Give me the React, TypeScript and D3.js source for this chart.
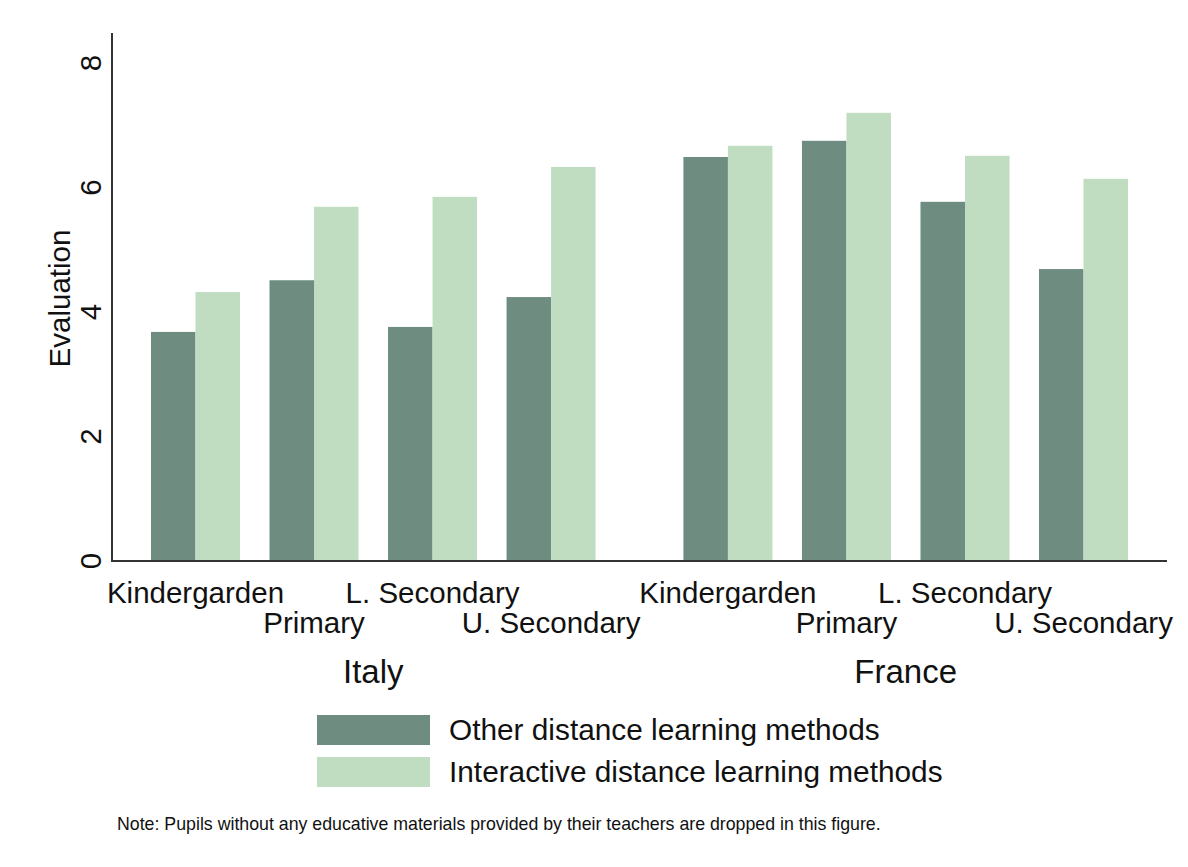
import React from "react";
import * as d3 from "d3";

const countries = ["Italy", "France"];
const levels = ["Kindergarden", "Primary", "L. Secondary", "U. Secondary"];
const seriesNames = ["Other distance learning methods", "Interactive distance learning methods"];
const otherItaly = [3.68, 4.51, 3.76, 4.24];
const interactiveItaly = [4.32, 5.69, 5.85, 6.33];
const otherFrance = [6.49, 6.75, 5.77, 4.69];
const interactiveFrance = [6.67, 7.2, 6.51, 6.14];
const yTicks = [0, 2, 4, 6, 8];
const note = "Note: Pupils without any educative materials provided by their teachers are dropped in this figure.";

const colors = ["#6e8c80", "#c0ddc1"];

const W = 1188;
const H = 867;
const left = 112;
const right = 1167;
const base = 561;

export default function App() {
  const values: Record<string, number[][]> = {
    Italy: [otherItaly, interactiveItaly],
    France: [otherFrance, interactiveFrance],
  };
  const y = d3.scaleLinear().domain([0, 8]).range([base, 63]);
  const x0 = d3.scaleBand().domain(countries).range([left, right]).paddingInner(0.165).paddingOuter(0.0732);
  const x1 = d3.scaleBand().domain(levels).range([0, x0.bandwidth()]).paddingInner(0.249).paddingOuter(0);
  const x2 = d3.scaleBand().domain(seriesNames).range([0, x1.bandwidth()]).padding(0);
  const font = "'Liberation Sans', Arial, sans-serif";
  const fs = 29.5;

  return (
    <svg width={W} height={H} style={{ display: "block", position: "absolute", left: 0, top: 0, background: "#fff" }} fontFamily={font}>
      <rect x={0} y={0} width={W} height={H} fill="#fff" />
      {countries.map((c) => (
        <g key={c} transform={`translate(${x0(c)},0)`}>
          {levels.map((lv, li) => (
            <g key={lv} transform={`translate(${x1(lv)},0)`}>
              {seriesNames.map((s, si) => (
                <rect
                  key={s}
                  x={x2(s)}
                  y={y(values[c][si][li])}
                  width={x2.bandwidth()}
                  height={base - y(values[c][si][li])}
                  fill={colors[si]}
                />
              ))}
              <text
                x={x1.bandwidth() / 2}
                y={li % 2 === 0 ? 603 : 633}
                textAnchor="middle"
                fontSize={fs}
                fill="#111"
              >
                {lv}
              </text>
            </g>
          ))}
          <text x={x0.bandwidth() / 2} y={683} textAnchor="middle" fontSize={33} fill="#111">
            {c}
          </text>
        </g>
      ))}
      <line x1={left} x2={left} y1={33} y2={base + 1} stroke="#333" strokeWidth={2} />
      <line x1={left - 1} x2={right} y1={base} y2={base} stroke="#333" strokeWidth={2} />
      {yTicks.map((t) => (
        <text
          key={t}
          transform={`translate(101,${y(t)}) rotate(-90)`}
          textAnchor="middle"
          fontSize={fs}
          fill="#111"
        >
          {t}
        </text>
      ))}
      <text transform={`translate(70,298.5) rotate(-90)`} textAnchor="middle" fontSize={fs} fill="#111">
        Evaluation
      </text>
      {seriesNames.map((s, i) => (
        <g key={s}>
          <rect x={317} y={715 + i * 42} width={113} height={30} fill={colors[i]} />
          <text x={449} y={740 + i * 42} fontSize={29.8} fill="#111">
            {s}
          </text>
        </g>
      ))}
      <text x={117} y={830} fontSize={17.75} fill="#111">
        {note}
      </text>
    </svg>
  );
}
